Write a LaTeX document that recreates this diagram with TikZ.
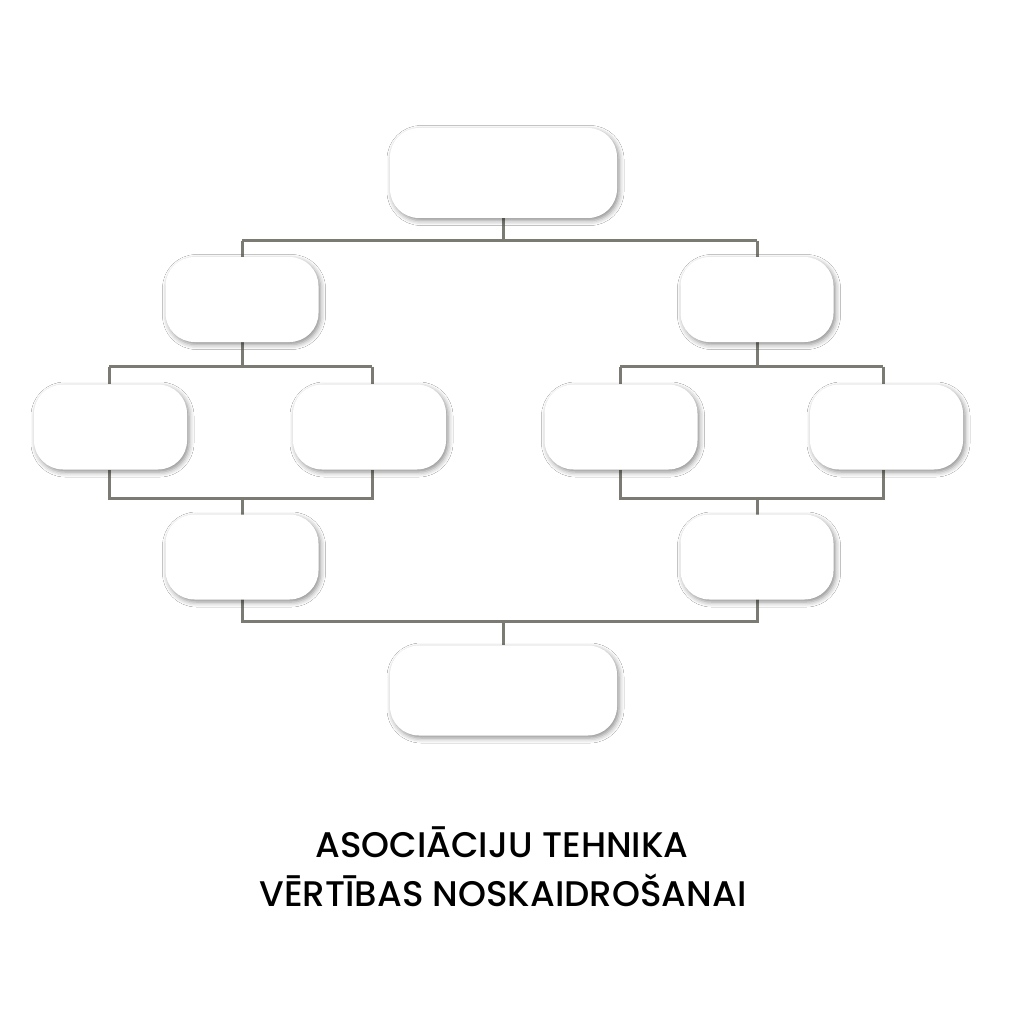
\documentclass[tikz,border=0pt]{standalone}
\usepackage{fontspec}
\setmainfont{Poppins}[UprightFont=* Medium]
\usetikzlibrary{shadows.blur}
\definecolor{linec}{HTML}{7B7B73}
\tikzset{
  card/.style={draw=none, fill=white, rounded corners=29pt, inner sep=0pt,
    blur shadow={shadow xshift=2pt, shadow yshift=-2.5pt, shadow blur radius=5pt, shadow opacity=45}},
  bigcard/.style={card, minimum width=227pt, minimum height=90pt},
  smallcard/.style={card, minimum width=153pt, minimum height=85pt},
  conn/.style={draw=linec, line width=3pt},
  title/.style={font=\fontsize{35.6}{49}\selectfont, align=center, text=black}
}
\begin{document}
\begin{tikzpicture}[x=1pt,y=-1pt]
\useasboundingbox (0,0) rectangle (1024,1024);
\fill[white] (0,0) rectangle (1024,1024);
% junction coordinates
\coordinate (j1) at (503,240.5);
\coordinate (j1l) at (242,240.5);
\coordinate (j1r) at (757,240.5);
\coordinate (j2l) at (109,366.5);
\coordinate (j2lr) at (372,366.5);
\coordinate (j2rl) at (620,366.5);
\coordinate (j2r) at (883,366.5);
\coordinate (j3l) at (109,498.5);
\coordinate (j3lr) at (372,498.5);
\coordinate (j3rl) at (620,498.5);
\coordinate (j3r) at (883,498.5);
\coordinate (j4l) at (242,621.5);
\coordinate (j4r) at (757,621.5);
\coordinate (j4) at (503,621.5);
% connectors (behind nodes)
\draw[conn] (503,218) -- (j1);
\draw[conn] (j1l) -- (j1r);
\draw[conn] (j1l) -- (242,257);
\draw[conn] (j1r) -- (757,257);
\draw[conn] (242,342) -- (242,366.5);
\draw[conn] (757,342) -- (757,366.5);
\draw[conn] (j2l) -- (j2lr);
\draw[conn] (j2rl) -- (j2r);
\draw[conn] (j2l) -- (109,384);
\draw[conn] (j2lr) -- (372,384);
\draw[conn] (j2rl) -- (620,384);
\draw[conn] (j2r) -- (883,384);
\draw[conn] (109,470) -- (j3l) -- (j3lr) -- (372,470);
\draw[conn] (620,470) -- (j3rl) -- (j3r) -- (883,470);
\draw[conn] (242,498.5) -- (242,515);
\draw[conn] (757,498.5) -- (757,515);
\draw[conn] (242,599) -- (j4l) -- (j4r) -- (757,599);
\draw[conn] (j4) -- (503,645);
% boxes
\node[bigcard] (top) at (503.5,173) {};
\node[smallcard] (l2a) at (242,299.5) {};
\node[smallcard] (l2b) at (757,299.5) {};
\node[smallcard] (l3a) at (110.5,427) {};
\node[smallcard] (l3b) at (369.5,427) {};
\node[smallcard] (l3c) at (621,427) {};
\node[smallcard] (l3d) at (886.5,427) {};
\node[smallcard] (l4a) at (242,557) {};
\node[smallcard] (l4b) at (757,557) {};
\node[bigcard] (bot) at (503.5,690.5) {};
% title
\node[title, anchor=base] (t1) at (502,857) {ASOCIĀCIJU TEHNIKA};
\node[title, anchor=base] (t2) at (503,906) {VĒRTĪBAS NOSKAIDROŠANAI};
\end{tikzpicture}
\end{document}
